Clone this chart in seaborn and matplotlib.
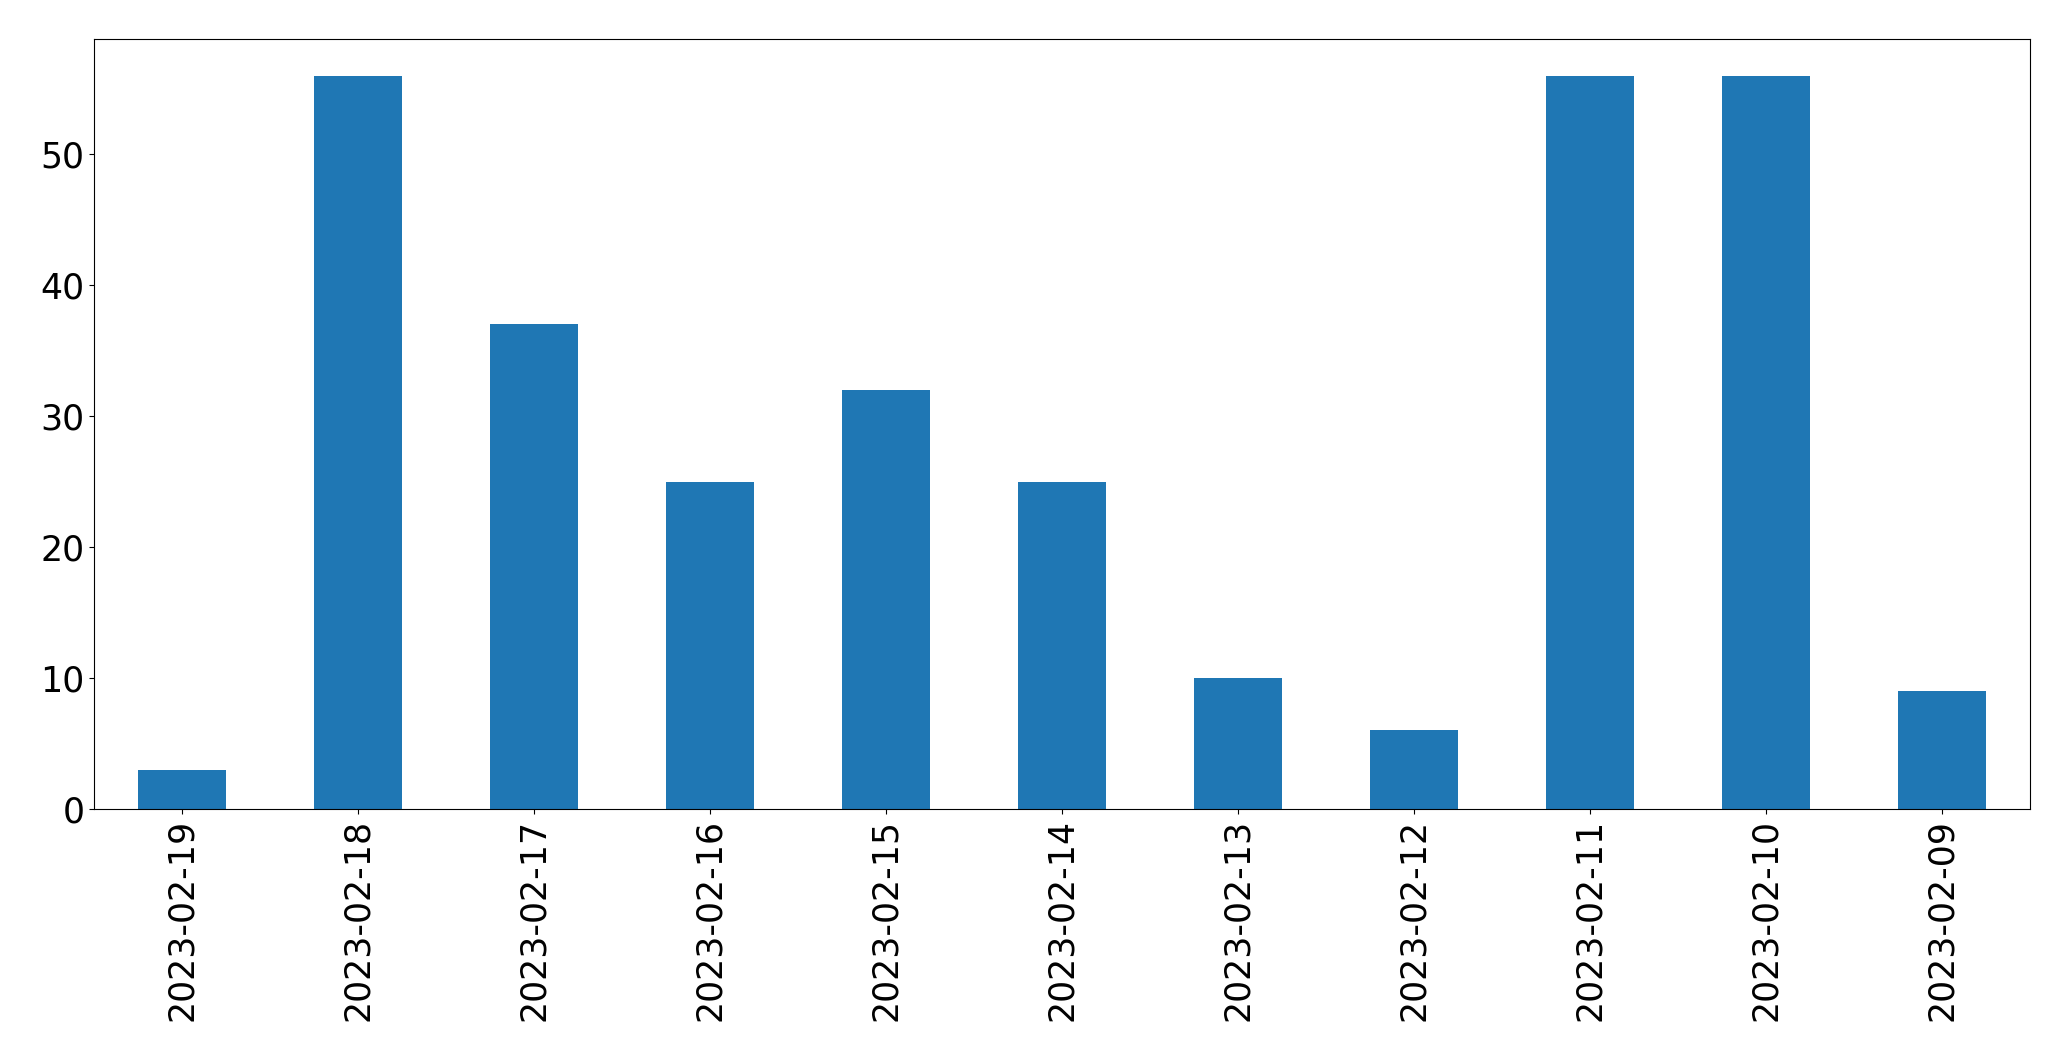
import matplotlib
matplotlib.use("Agg")
import matplotlib.pyplot as plt
import seaborn as sns
import pandas as pd

dates = ["2023-02-19", "2023-02-18", "2023-02-17", "2023-02-16", "2023-02-15",
         "2023-02-14", "2023-02-13", "2023-02-12", "2023-02-11", "2023-02-10", "2023-02-09"]
counts = [3, 56, 37, 25, 32, 25, 10, 6, 56, 56, 9]

df = pd.DataFrame({"date": dates, "count": counts})

fig = plt.figure(figsize=(20.71, 10.61), dpi=100)
ax = fig.add_axes([94 / 2071, 1 - 809 / 1061, (2030 - 94) / 2071, (809 - 39) / 1061])
sns.barplot(data=df, x="date", y="count", order=dates, color="#1f77b4",
            saturation=1, width=0.5, ax=ax, linewidth=0)
ax.set_xlim(-0.5, len(dates) - 0.5)
ax.set_ylim(0, max(counts) * 1.05)
ax.set_xlabel("")
ax.set_ylabel("")
ax.tick_params(axis="both", labelsize=25)
plt.setp(ax.get_xticklabels(), rotation=90)
fig.savefig("out.png", dpi=100)
